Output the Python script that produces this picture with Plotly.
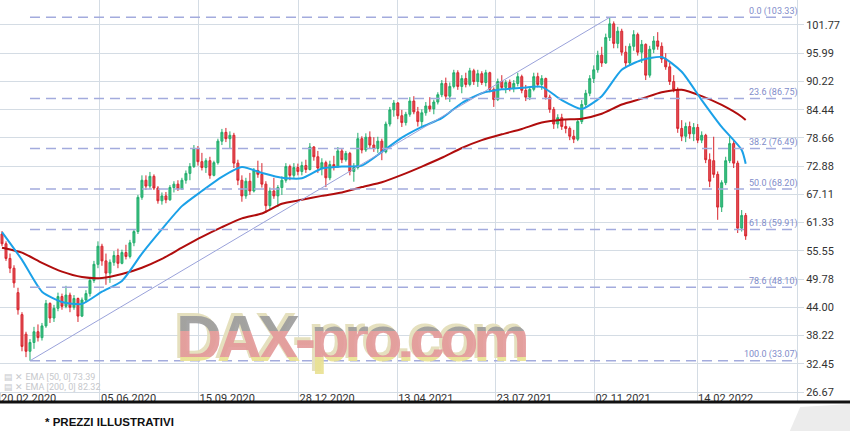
import plotly.graph_objects as go

# ---------------- data ----------------
OPEN = [59.0, 57.0, 54.0, 52.0, 47.0, 42.5, 38.5, 35.0, 36.8, 39.0,
        37.8, 40.2, 44.8, 41.8, 43.8, 46.2, 44.2, 46.5, 44.0, 45.8,
        42.2, 45.5, 46.8, 49.5, 52.8, 56.5, 53.5, 51.0, 53.2, 54.6,
        53.0, 55.2, 54.4, 57.2, 59.5, 66.5, 70.0, 68.8, 70.8, 68.4,
        65.8, 66.8, 66.0, 68.5, 69.2, 68.2, 70.0, 71.4, 72.8, 76.5,
        73.8, 72.6, 74.0, 71.0, 73.6, 78.0, 79.8, 78.5, 79.2, 73.5,
        70.0, 66.8, 69.8, 67.8, 72.0, 71.2, 69.2, 64.8, 67.8, 66.8,
        68.5, 70.0, 72.8, 71.0, 72.6, 71.8, 73.0, 72.2, 76.8, 74.8,
        72.5, 73.6, 70.5, 73.2, 72.8, 76.0, 74.2, 75.5, 71.8, 72.6,
        78.5, 76.2, 78.8, 77.2, 76.5, 78.0, 75.8, 81.5, 84.4, 85.8,
        83.2, 81.8, 83.5, 86.2, 84.0, 82.0, 83.8, 85.2, 84.6, 86.0,
        87.5, 89.8, 87.2, 89.2, 92.0, 89.2, 90.8, 89.6, 92.4, 90.2,
        91.8, 90.0, 92.0, 88.6, 86.5, 90.2, 89.0, 90.0, 88.8, 89.8,
        91.2, 88.4, 87.0, 88.6, 91.2, 89.6, 90.8, 87.0, 84.5, 81.5,
        82.8, 81.0, 80.6, 79.0, 78.4, 82.0, 85.5, 87.8, 90.8, 92.6,
        95.6, 94.0, 99.2, 102.0, 98.0, 100.5, 96.2, 94.0, 97.4, 99.8,
        96.2, 97.8, 91.5, 96.8, 98.5, 97.4, 94.8, 93.2, 90.2, 88.6,
        80.6, 79.0, 81.0, 79.5, 80.8, 78.2, 79.2, 74.2, 74.0, 71.2,
        64.5, 69.5, 74.0, 77.5, 73.5, 60.2, 62.8]
HIGH = [59.6, 57.5, 55.0, 52.6, 48.0, 43.0, 39.0, 37.5, 40.0, 40.5,
        40.8, 45.5, 45.0, 44.5, 47.0, 46.8, 48.4, 47.0, 46.5, 46.0,
        46.0, 47.5, 50.0, 53.5, 57.5, 57.0, 55.0, 53.8, 55.5, 56.0,
        55.8, 56.8, 57.8, 60.0, 67.0, 71.0, 71.0, 71.7, 71.2, 68.8,
        67.5, 67.6, 69.0, 69.8, 70.0, 70.5, 72.0, 73.5, 77.2, 77.0,
        75.6, 74.5, 74.8, 74.0, 78.5, 80.5, 80.7, 80.0, 79.7, 74.2,
        71.0, 70.5, 71.5, 72.5, 74.0, 73.5, 69.8, 68.5, 70.5, 69.0,
        70.8, 73.5, 73.2, 73.5, 73.4, 73.8, 74.2, 77.6, 77.0, 76.0,
        74.5, 74.0, 74.0, 75.0, 76.8, 76.5, 76.0, 75.8, 73.5, 79.7,
        79.0, 79.6, 80.0, 78.8, 78.9, 78.5, 82.0, 85.0, 86.4, 86.0,
        84.4, 84.0, 87.0, 87.2, 85.0, 84.5, 86.0, 87.0, 86.5, 88.0,
        90.5, 91.0, 90.0, 92.6, 92.5, 91.5, 92.0, 93.0, 92.8, 92.6,
        92.3, 92.6, 92.2, 89.0, 90.8, 91.5, 90.5, 90.6, 90.5, 92.0,
        91.6, 89.5, 89.0, 92.0, 92.0, 91.5, 91.0, 87.5, 85.0, 83.5,
        83.6, 82.5, 81.0, 80.3, 82.5, 86.4, 88.5, 91.5, 93.5, 96.5,
        97.3, 100.0, 103.33, 102.5, 101.4, 101.0, 97.5, 98.0, 100.7, 100.2,
        98.7, 98.0, 97.5, 99.5, 100.3, 98.2, 96.0, 94.0, 91.5, 89.0,
        82.3, 81.8, 82.0, 81.7, 81.5, 80.0, 79.5, 75.5, 78.9, 71.8,
        70.0, 74.8, 78.9, 78.2, 74.0, 63.9, 63.3]
LOW = [56.5, 53.5, 51.0, 48.0, 42.5, 35.0, 33.8, 33.07, 35.5, 37.0,
       37.2, 39.8, 40.8, 41.0, 43.2, 43.5, 43.8, 43.0, 43.5, 41.0,
       42.0, 45.0, 46.2, 49.0, 52.0, 52.5, 48.6, 49.0, 52.5, 52.0,
       52.8, 53.8, 54.0, 56.5, 59.0, 66.0, 68.0, 68.2, 68.0, 65.2,
       65.0, 65.3, 65.8, 67.5, 67.8, 68.0, 69.3, 70.0, 72.5, 73.0,
       72.0, 71.5, 70.3, 70.8, 73.2, 77.2, 77.8, 76.5, 72.5, 69.0,
       65.6, 66.2, 67.0, 67.5, 70.5, 68.5, 63.3, 64.0, 66.2, 64.5,
       67.0, 69.5, 70.0, 70.5, 71.0, 71.0, 71.5, 72.0, 74.0, 71.5,
       71.0, 68.6, 70.0, 72.0, 72.5, 73.5, 73.8, 71.0, 69.7, 72.2,
       75.5, 75.8, 76.5, 75.8, 75.6, 74.1, 75.5, 81.0, 83.0, 82.5,
       80.9, 81.2, 83.0, 83.5, 81.0, 80.9, 83.2, 84.0, 83.5, 85.5,
       87.0, 86.5, 86.0, 88.8, 88.5, 87.8, 89.0, 89.2, 89.5, 89.1,
       89.5, 89.2, 88.0, 85.0, 86.2, 88.6, 87.8, 88.2, 88.0, 89.2,
       87.8, 86.2, 86.4, 88.2, 89.0, 88.5, 86.5, 83.8, 80.5, 80.6,
       80.3, 79.6, 78.2, 77.6, 78.0, 81.5, 85.0, 87.2, 89.9, 92.0,
       93.2, 93.8, 98.5, 97.0, 97.0, 95.5, 93.2, 93.5, 96.5, 95.5,
       94.0, 90.5, 91.0, 96.0, 96.7, 94.0, 92.6, 89.5, 88.0, 79.7,
       78.0, 77.8, 78.5, 78.0, 77.6, 77.6, 73.5, 68.6, 70.5, 61.9,
       63.5, 69.0, 73.5, 72.5, 59.2, 59.5, 57.8]
CLOSE = [57.0, 54.0, 52.0, 49.0, 43.5, 36.0, 35.0, 36.8, 39.0, 37.8,
         40.2, 44.8, 41.8, 43.8, 46.2, 44.2, 46.5, 44.0, 45.8, 42.2,
         45.5, 46.8, 49.5, 52.8, 56.5, 53.5, 51.0, 53.2, 54.6, 53.0,
         55.2, 54.4, 57.2, 59.5, 66.5, 70.0, 68.8, 70.8, 68.4, 65.8,
         66.8, 66.0, 68.5, 69.2, 68.2, 70.0, 71.4, 72.8, 76.5, 73.8,
         72.6, 74.0, 71.0, 73.6, 78.0, 79.8, 78.5, 79.2, 73.5, 70.0,
         66.8, 69.8, 67.8, 72.0, 71.2, 69.2, 64.8, 67.8, 66.8, 68.5,
         70.0, 72.8, 71.0, 72.6, 71.8, 73.0, 72.2, 76.8, 74.8, 72.5,
         73.6, 70.5, 73.2, 72.8, 76.0, 74.2, 75.5, 71.8, 72.6, 78.5,
         76.2, 78.8, 77.2, 76.5, 78.0, 75.8, 81.5, 84.4, 85.8, 83.2,
         81.8, 83.5, 86.2, 84.0, 82.0, 83.8, 85.2, 84.6, 86.0, 87.5,
         89.8, 87.2, 89.2, 92.0, 89.2, 90.8, 89.6, 92.4, 90.2, 91.8,
         90.0, 92.0, 88.6, 86.5, 90.2, 89.0, 90.0, 88.8, 89.8, 91.2,
         88.4, 87.0, 88.6, 91.2, 89.6, 90.8, 87.0, 84.5, 81.5, 82.8,
         81.0, 80.6, 79.0, 78.4, 82.0, 85.5, 87.8, 90.8, 92.6, 95.6,
         94.0, 99.2, 102.0, 98.0, 100.5, 96.2, 94.0, 97.4, 99.8, 96.2,
         97.8, 91.5, 96.8, 98.5, 97.4, 94.8, 93.2, 90.2, 88.6, 80.6,
         79.0, 81.0, 79.5, 80.8, 78.2, 79.2, 74.2, 69.8, 71.2, 64.5,
         69.5, 74.0, 77.5, 73.5, 60.2, 62.8, 58.6]

# EMA values sampled every 5 candles (plus the last candle)
EMA50 = [59.4, 53.7, 47.2, 45.1, 44.7, 47.2, 49.4, 55.0, 60.0, 64.7,
         67.8, 70.7, 72.7, 71.5, 70.5, 70.4, 72.4, 72.8, 73.0, 75.8,
         78.7, 80.9, 82.7, 85.8, 87.8, 88.6, 88.9, 89.1, 86.4, 84.6,
         87.2, 92.6, 94.6, 95.2, 92.2, 86.4, 80.9, 76.2, 73.39]
EMA200 = [56.2, 55.2, 53.1, 51.3, 50.2, 50.0, 50.8, 52.1, 53.9, 56.2,
          58.4, 60.4, 62.2, 63.2, 65.2, 66.0, 66.8, 67.5, 68.6, 69.6,
          71.1, 72.8, 74.6, 76.6, 78.2, 79.4, 80.5, 81.8, 82.4, 82.6,
          83.6, 85.5, 86.7, 88.0, 88.5, 87.2, 85.4, 83.0, 82.32]

FIB_PCT = ["0.0", "23.6", "38.2", "50.0", "61.8", "78.6", "100.0"]
FIB_VAL = [103.33, 86.75, 76.49, 68.20, 59.91, 48.10, 33.07]

X_TICK_LABELS = ["20.02.2020", "05.06.2020", "15.09.2020", "28.12.2020", "13.04.2021",
                 "23.07.2021", "02.11.2021", "14.02.2022", "11.05.2022"]
X_TICK_DAYS = [0, 75, 149, 224, 298, 372, 446, 523, 598]
Y_TICKS = [26.67, 32.45, 38.22, 44.00, 49.78, 55.55, 61.33, 67.11, 72.88,
           78.66, 84.44, 90.22, 95.99, 101.77]

# ---------------- positions (trading days, 3 per candle) ----------------
N = len(CLOSE)
X = [1.5 + 3 * i for i in range(N)]
EMA_X = [X[min(5 * k, N - 1)] for k in range(len(EMA50))]

GRID = "#d4dce4"
FIB_COL = "#a3abdd"
WM_FONT = "Liberation Sans, Arial, sans-serif"

fig = go.Figure()

fig.add_trace(go.Candlestick(
    x=X, open=OPEN, high=HIGH, low=LOW, close=CLOSE,
    increasing=dict(line=dict(color="#22ad6c", width=1), fillcolor="#3cbf80"),
    decreasing=dict(line=dict(color="#d8242c", width=1), fillcolor="#e0525a"),
    whiskerwidth=0, hoverinfo="skip"))

fig.add_trace(go.Scatter(x=EMA_X, y=EMA200, mode="lines",
                         line=dict(color="#b00d0d", width=2, shape="spline", smoothing=0.6),
                         hoverinfo="skip"))
fig.add_trace(go.Scatter(x=EMA_X, y=EMA50, mode="lines",
                         line=dict(color="#1ba1e8", width=2, shape="spline", smoothing=0.6),
                         hoverinfo="skip"))

# Fibonacci retracement: diagonal from swing low to swing high
lo = min(LOW)
hi = max(HIGH)
i_lo = LOW.index(lo)
i_hi = HIGH.index(hi)
fig.add_trace(go.Scatter(x=[X[i_lo], X[i_hi]], y=[lo, hi], mode="lines",
                         line=dict(color="#9aa2da", width=1), hoverinfo="skip"))

for pct, val in zip(FIB_PCT, FIB_VAL):
    fig.add_shape(type="line", xref="x", yref="y", x0=X[i_lo], x1=X_TICK_DAYS[-1],
                  y0=val, y1=val, line=dict(color=FIB_COL, width=1.5, dash="10px,6px"),
                  layer="above")
    fig.add_annotation(xref="paper", yref="y", x=1.004, y=val, xanchor="right",
                       yanchor="middle", yshift=6, showarrow=False,
                       text=f"{pct} ({val:.2f})",
                       font=dict(family="Roboto", size=9, color="#7f8cc9"))

# watermark (condensed look via negative letter spacing, beige extrusion shadow)
WM_TEXT = "<span style='letter-spacing:-5.5px'><b>DAX-pro.com</b></span>"
fig.add_annotation(xref="paper", yref="paper", x=0.44, y=0.13, xshift=-3, yshift=-33,
                   showarrow=False, text=WM_TEXT,
                   font=dict(family=WM_FONT, size=64, color="rgba(228,222,186,0.95)"))
fig.add_annotation(xref="paper", yref="paper", x=0.44, y=0.13, yshift=-36,
                   showarrow=False, text=WM_TEXT,
                   font=dict(family=WM_FONT, size=64, color="rgba(224,146,146,0.92)"))

# legend (faded)
for k, (lbl, arr) in enumerate([("EMA [50, 0]", EMA50), ("EMA [200, 0]", EMA200)]):
    fig.add_annotation(xref="paper", yref="paper", x=0.003, y=0.038 - k * 0.0255,
                       xanchor="left", yanchor="middle", showarrow=False,
                       text=f"▤ ✕ {lbl} {arr[-1]:.2f}",
                       font=dict(family="Roboto", size=9, color="#c6c8cc"))

# clipped top tick label
fig.add_annotation(xref="paper", yref="paper", x=1, xshift=10, y=1.008, xanchor="left",
                   yanchor="middle", showarrow=False, text="107.55",
                   font=dict(family="Roboto", size=11, color="#333333"))

# footer: black rule, disclaimer text
fig.add_shape(type="line", xref="paper", yref="paper", x0=-0.01, x1=1.08,
              y0=-0.0255, y1=-0.0255, line=dict(color="#111111", width=3))
fig.add_shape(type="path", xref="paper", yref="paper",
              path="M 0.991 -0.0995 L 1.004 -0.038 L 1.07 -0.030 L 1.07 -0.0995 Z",
              fillcolor="#ececec", line=dict(width=0))
fig.add_annotation(xref="paper", yref="paper", x=0.054, y=-0.0765, xanchor="left",
                   yanchor="middle", showarrow=False, text="<b>* PREZZI ILLUSTRATIVI</b>",
                   font=dict(family="Liberation Sans, Arial", size=11.5, color="#111111"))

fig.update_layout(
    width=850, height=431,
    margin=dict(l=0, r=53, t=0, b=39),
    paper_bgcolor="white", plot_bgcolor="white",
    showlegend=False, hovermode=False,
    xaxis=dict(range=[0, X_TICK_DAYS[-1]], tickvals=X_TICK_DAYS, ticktext=X_TICK_LABELS,
               ticklabelposition="outside right", showgrid=True, gridcolor=GRID, gridwidth=1,
               ticks="outside", ticklen=8, tickcolor=GRID, showline=True, linecolor=GRID,
               ticklabelstandoff=-4,
               zeroline=False, rangeslider=dict(visible=False),
               tickfont=dict(family="Roboto", size=11, color="#333333")),
    yaxis=dict(range=[26.67, 106.88], side="right", tickvals=Y_TICKS,
               ticktext=[f"{v:.2f}" for v in Y_TICKS], showgrid=True, gridcolor=GRID,
               ticks="outside", ticklen=6, tickcolor=GRID, showline=True, linecolor=GRID,
               zeroline=False, tickfont=dict(family="Roboto", size=11, color="#333333")),
)

# page margin reset + German-flag style tricolour fill on the watermark text
POST = """
document.body.style.margin='0';
(function(){
  var ns='http://www.w3.org/2000/svg';
  var ts=document.querySelectorAll('.annotation-text');
  ts.forEach(function(t){
    if(t.textContent.indexOf('DAX-pro')<0) return;
    var f=(t.style.fill||'')+'';
    if(f.indexOf('224')<0) return;
    var svg=t.ownerSVGElement;
    var defs=svg.querySelector('defs');
    if(!defs){defs=document.createElementNS(ns,'defs');svg.insertBefore(defs,svg.firstChild);}
    var g=document.createElementNS(ns,'linearGradient');
    g.setAttribute('id','wmflag');
    g.setAttribute('x1','0');g.setAttribute('y1','0');
    g.setAttribute('x2','0');g.setAttribute('y2','1');
    var stops=[[0,'#9d9d9d'],[0.39,'#9d9d9d'],[0.39,'#e39a9a'],[0.75,'#e39a9a'],
               [0.75,'#e9e192'],[1,'#e9e192']];
    stops.forEach(function(s){
      var st=document.createElementNS(ns,'stop');
      st.setAttribute('offset',s[0]);st.setAttribute('stop-color',s[1]);
      g.appendChild(st);
    });
    defs.appendChild(g);
    t.style.fill='url(#wmflag)';
  });
})();
"""

fig.write_html("out.html", config={"displayModeBar": False}, post_script=POST)
